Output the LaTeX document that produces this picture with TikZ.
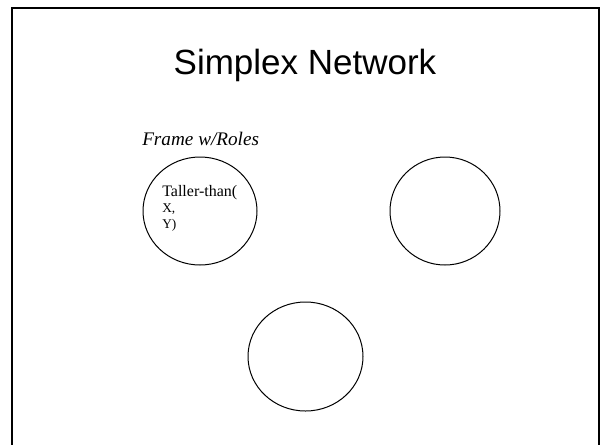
\documentclass[tikz,border=0pt]{standalone}
\usepackage{fontspec}
\setmainfont{Liberation Serif}
\newfontfamily\titlefont{Liberation Sans}
\begin{document}
\begin{tikzpicture}[x=0.75pt,y=0.75pt,yscale=-1,xscale=1]
	%uncomment if require: \path (0,444); %set diagram left start at 0, and has height of 444
	\useasboundingbox (0,0) rectangle (600,444);
	\clip (0,0) rectangle (600,444);
	
	%Shape: Rectangle [id:frame] 
	\draw [color={rgb, 255:red, 0; green, 0; blue, 0 }  ,draw opacity=1 ][line width=1.5]  (11.5,7.5) -- (598.5,7.5) -- (598.5,460) -- (11.5,460) -- cycle ;
	%Shape: Ellipse [id:roles] 
	\draw [color={rgb, 255:red, 0; green, 0; blue, 0 }  ,draw opacity=1 ][line width=0.75]  (200,211) ellipse (57 and 54) ;
	%Shape: Ellipse [id:right] 
	\draw [color={rgb, 255:red, 0; green, 0; blue, 0 }  ,draw opacity=1 ][line width=0.75]  (445,211) ellipse (55 and 54) ;
	%Shape: Ellipse [id:bottom] 
	\draw [color={rgb, 255:red, 0; green, 0; blue, 0 }  ,draw opacity=1 ][line width=0.75]  (305.5,356.5) ellipse (57.5 and 54.5) ;
	
	% Text Node
	\draw (305,74.5) node (title) [anchor=base][inner sep=0pt]   {\titlefont\fontsize{26.25}{30}\selectfont Simplex Network};
	% Text Node
	\draw (142,145) node (label) [anchor=base west][inner sep=0pt]   {\fontsize{14.4}{17}\selectfont\itshape Frame w/Roles};
	% Text Node
	\draw (162,185) node (relation) [anchor=north west][inner sep=0pt]   [align=left] {\fontsize{12}{15.4}\selectfont Taller-than(\\X,\\Y)};
	
\end{tikzpicture}
\end{document}
